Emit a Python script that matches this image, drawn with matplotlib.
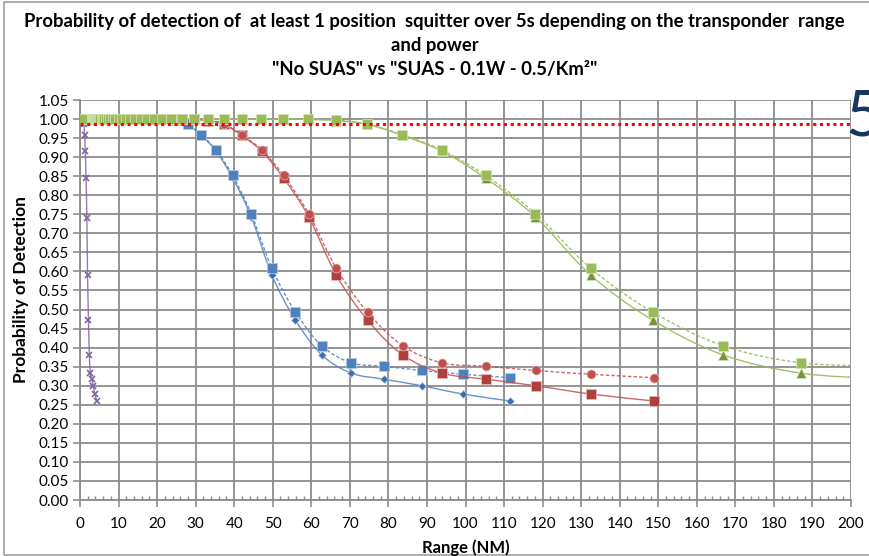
import matplotlib
matplotlib.use("Agg")
import matplotlib.pyplot as plt
from matplotlib.patches import Rectangle, PathPatch
from matplotlib.path import Path

plt.rcParams['font.family'] = ['Lato', 'DejaVu Sans']

# ---------------- data ----------------
x_blue = [111.5, 99.4, 88.6, 78.9, 70.4, 62.7, 55.9, 49.8, 44.4, 39.6, 35.3, 31.4,
          28.0, 25.0, 22.3, 19.8, 17.7, 15.8, 14.0, 12.5, 11.2, 9.9, 8.9, 7.9, 7.0,
          6.3, 5.6, 5.0, 4.4, 4.0, 3.5, 3.1, 2.8, 2.5, 2.2, 2.0, 1.8, 1.6, 1.4, 1.25,
          1.1, 1.0, 0.89, 0.79, 0.70, 0.63, 0.56, 0.50, 0.44, 0.40, 0.35, 0.31, 0.28,
          0.25, 0.22, 0.20]
x_red = [148.8, 132.6, 118.2, 105.4, 93.9, 83.7, 74.6, 66.5, 59.3, 52.8, 47.1, 41.9,
         37.4, 33.3, 29.7, 26.5, 23.6, 21.0, 18.7, 16.7, 14.9, 13.3, 11.8, 10.5, 9.4,
         8.4, 7.5, 6.6, 5.9, 5.3, 4.7, 4.2, 3.7, 3.3, 3.0, 2.6, 2.4, 2.1, 1.9, 1.7,
         1.5, 1.3, 1.2, 1.05, 0.94, 0.84, 0.75, 0.66, 0.59, 0.53, 0.47, 0.42, 0.37,
         0.33, 0.30, 0.26]
x_green = [296.6, 264.3, 235.6, 210.0, 187.1, 166.8, 148.6, 132.5, 118.1, 105.2, 93.8,
           83.6, 74.5, 66.4, 59.2, 52.7, 47.0, 41.9, 37.3, 33.3, 29.7, 26.4, 23.6, 21.0,
           18.7, 16.7, 14.9, 13.3, 11.8, 10.5, 9.4, 8.4, 7.4, 6.6, 5.9, 5.3, 4.7, 4.2,
           3.7, 3.3, 3.0, 2.6, 2.4, 2.1, 1.9, 1.7, 1.5, 1.3, 1.2, 1.05, 0.94, 0.83,
           0.74, 0.66, 0.59, 0.53]
x_purple = [4.32, 3.88, 3.44, 3.08, 2.70, 2.42, 2.20, 1.96, 1.78, 1.57, 1.37, 1.18,
            1.04, 0.93, 0.83, 0.74, 0.66, 0.58, 0.52, 0.46]

y_solid = [0.260, 0.278, 0.300, 0.317, 0.333, 0.381, 0.472, 0.590, 0.744, 0.845,
           0.916, 0.957, 0.986, 0.996, 0.999, 1.0, 1.0, 1.0, 1.0, 1.0, 1.0, 1.0,
           1.0, 1.0, 1.0, 1.0, 1.0, 1.0, 1.0, 1.0, 1.0, 1.0, 1.0, 1.0, 1.0, 1.0,
           1.0, 1.0, 1.0, 1.0, 1.0, 1.0, 1.0, 1.0, 1.0, 1.0, 1.0, 1.0, 1.0, 1.0,
           1.0, 1.0, 1.0, 1.0, 1.0, 1.0]
y_dashed = [0.321, 0.330, 0.340, 0.351, 0.360, 0.405, 0.493, 0.608, 0.752, 0.852,
            0.919, 0.959, 0.987, 0.997, 0.999, 1.0, 1.0, 1.0, 1.0, 1.0, 1.0, 1.0,
            1.0, 1.0, 1.0, 1.0, 1.0, 1.0, 1.0, 1.0, 1.0, 1.0, 1.0, 1.0, 1.0, 1.0,
            1.0, 1.0, 1.0, 1.0, 1.0, 1.0, 1.0, 1.0, 1.0, 1.0, 1.0, 1.0, 1.0, 1.0,
            1.0, 1.0, 1.0, 1.0, 1.0, 1.0]
y_purple = [0.260, 0.278, 0.300, 0.317, 0.333, 0.381, 0.472, 0.590, 0.740, 0.844,
            0.916, 0.958, 0.986, 0.996, 0.999, 1.0, 1.0, 1.0, 1.0, 1.0]

threshold = 0.987

title_lines = ["Probability of detection of  at least 1 position  squitter over 5s depending on the transponder  range",
               "and power",
               "\"No SUAS\" vs \"SUAS - 0.1W - 0.5/Km\u00b2\""]
x_label = "Range (NM)"
y_label = "Probability of Detection"

# ---------------- figure ----------------
W, H = 869, 556
fig = plt.figure(figsize=(W / 100, H / 100), dpi=100)
fig.patch.set_facecolor('white')
ax = fig.add_axes([80 / W, 1 - 500 / H, (851 - 80) / W, 400 / H])

grid_c = '#8C8C8C'
ax.set_xlim(0, 200)
ax.set_ylim(0, 1.05)
ax.set_xticks(range(0, 201, 10))
ax.set_xticks(range(0, 201, 2), minor=True)
yt = [i * 0.05 for i in range(22)]
ax.set_yticks(yt)
ax.set_yticklabels([f"{v:.2f}" for v in yt])
ax.grid(True, which='major', color=grid_c, linewidth=1.3, zorder=0)
ax.set_axisbelow(True)
for s in ['top', 'right']:
    ax.spines[s].set_visible(False)
for s in ['left', 'bottom']:
    ax.spines[s].set_color(grid_c)
    ax.spines[s].set_linewidth(1.3)
ax.tick_params(axis='both', which='major', colors=grid_c, labelcolor='black',
               labelsize=11, length=5, width=1.2)
ax.tick_params(axis='x', which='major', pad=7, direction='out')
ax.tick_params(axis='x', which='minor', direction='in', length=3, width=1.0, colors=grid_c)
ax.tick_params(axis='y', which='major', pad=3)


def smooth_line(xs, ys, color, ls='-', lw=1.0, alpha=0.85, z=3):
    """Draw a smoothed (Excel-like) line through the data points as a Bezier path."""
    pts = list(zip(xs, ys))
    n = len(pts)
    verts = [pts[0]]
    codes = [Path.MOVETO]
    for i in range(n - 1):
        p0 = pts[i - 1] if i > 0 else pts[i]
        p1 = pts[i]
        p2 = pts[i + 1]
        p3 = pts[i + 2] if i + 2 < n else pts[i + 1]
        c1 = (p1[0] + (p2[0] - p0[0]) / 6.0, p1[1] + (p2[1] - p0[1]) / 6.0)
        c2 = (p2[0] - (p3[0] - p1[0]) / 6.0, p2[1] - (p3[1] - p1[1]) / 6.0)
        verts += [c1, c2, p2]
        codes += [Path.CURVE4] * 3
    patch = PathPatch(Path(verts, codes), facecolor='none', edgecolor=color,
                      lw=lw, ls=ls, alpha=alpha, zorder=z)
    ax.add_patch(patch)


blue = '#4F81BD'
blue_d = '#3D6DB0'
red = '#C0504D'
red_d = '#B0403D'
green = '#9BBB59'
green_d = '#77933C'
purple = '#8064A2'
dash = (0, (2.5, 1.5))

# blue
smooth_line(x_blue, y_solid, blue, z=3)
ax.plot(x_blue, y_solid, ls='none', marker='D', ms=4.5,
        mfc=blue_d, mec='#B8CCE4', mew=0.5, zorder=3)
smooth_line(x_blue, y_dashed, blue, ls=dash, z=3)
ax.plot(x_blue, y_dashed, ls='none', marker='s', ms=6.5,
        mfc=blue, mec='#B8CCE4', mew=0.5, zorder=3)
# red
smooth_line(x_red, y_solid, red, z=4)
ax.plot(x_red, y_solid, ls='none', marker='s', ms=6.5,
        mfc=red_d, mec='#E6B9B8', mew=0.5, zorder=4)
smooth_line(x_red, y_dashed, red, ls=dash, z=4)
ax.plot(x_red, y_dashed, ls='none', marker='o', ms=6.5,
        mfc=red, mec='#E6B9B8', mew=0.5, zorder=4)
# purple
smooth_line(x_purple, y_purple, purple, z=4)
ax.plot(x_purple, y_purple, ls='none', marker='x', ms=4.5,
        mec=purple, mew=1.2, zorder=4)
# green
smooth_line(x_green, y_solid, green, alpha=0.9, z=5)
ax.plot(x_green, y_solid, ls='none', marker='^', ms=6.5,
        mfc=green_d, mec='#D7E4BD', mew=0.5, zorder=5)
smooth_line(x_green, y_dashed, green, ls=dash, alpha=0.9, z=5)
ax.plot(x_green, y_dashed, ls='none', marker='s', ms=7,
        mfc=green, mec='#D7E4BD', mew=0.5, zorder=5)
# threshold
ax.axhline(threshold, color='#FF0000', lw=2.2, ls=(0, (1, 1.2)), zorder=6)

# texts
for i, line in enumerate(title_lines):
    fig.text(0.5, 1 - (22 + 24 * i) / H, line, ha='center', va='center',
             fontsize=13.3, fontweight='bold')
fig.text(465.5 / W, 1 - 548 / H, x_label, ha='center', va='center',
         fontsize=12, fontweight='bold')
fig.text(21 / W, 1 - 290 / H, y_label, ha='center', va='center', rotation=90,
         fontsize=12.5, fontweight='bold')
fig.text(845 / W, 1 - 117 / H, "5", ha='left', va='center', fontsize=46,
         color='#17375E')

# outer border
fig.patches.append(Rectangle((4 / W, 1 / H), 1.2, (H - 3) / H, transform=fig.transFigure,
                             fill=False, edgecolor='#A0A0A0', lw=1.2))

fig.savefig('out.png', dpi=100)
